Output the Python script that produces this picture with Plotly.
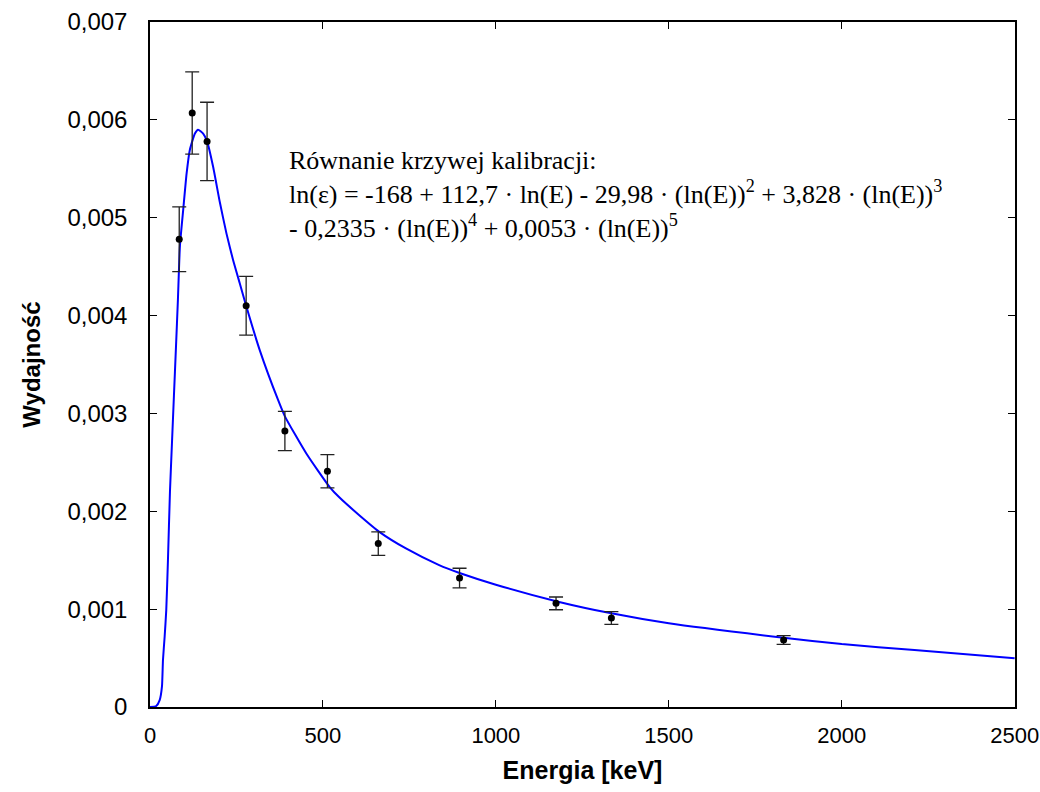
import plotly.graph_objects as go

# Measured points (energy in keV, efficiency)
energy_pts = [84.5, 122, 165, 278, 390, 513, 660, 895, 1174, 1334, 1832]
eff_pts = [0.00478, 0.00607, 0.00578, 0.00410, 0.00282, 0.00241, 0.00167, 0.001318, 0.001059, 0.000909, 0.000684]
eff_err = [0.00033, 0.00042, 0.00040, 0.00030, 0.00020, 0.00017, 0.00012, 0.00010, 0.000065, 0.000065, 0.000045]

# Calibration curve
curve_E = [0, 18, 28, 34.6, 37.5, 42.4, 47, 51.9, 57.7, 63.4, 69.2, 75, 80.7, 86.5, 96, 105.8, 115,
           129.8, 139, 153.7, 165, 182.5, 201.8, 221, 240, 259.5, 278, 317, 370, 390, 452, 519,
           548, 605, 663, 740, 836, 895, 1000, 1180, 1334, 1500, 1832, 2000, 2210, 2500]
curve_eff = [0.0, 0.00001, 0.00007, 0.00021, 0.00048, 0.00072, 0.00099, 0.00150, 0.00220, 0.00269,
             0.00318, 0.00367, 0.00416, 0.00471, 0.00508, 0.00545, 0.00569, 0.00586, 0.00590, 0.00586,
             0.00578, 0.00552, 0.00516, 0.00484, 0.00457, 0.00433, 0.00410, 0.00365, 0.00314,
             0.00297, 0.00259, 0.00225, 0.00214, 0.00196, 0.00179, 0.00162, 0.00145, 0.00137, 0.00125,
             0.001076, 0.000957, 0.000855, 0.000708, 0.000643, 0.000582, 0.000497]

x_ticks = [0, 500, 1000, 1500, 2000, 2500]
x_ticktext = ["0", "500", "1000", "1500", "2000", "2500"]
y_ticks = [0, 0.001, 0.002, 0.003, 0.004, 0.005, 0.006, 0.007]
y_ticktext = ["0", "0,001", "0,002", "0,003", "0,004", "0,005", "0,006", "0,007"]

fig = go.Figure()
fig.add_trace(go.Scatter(
    x=curve_E, y=curve_eff, mode="lines",
    line=dict(color="rgb(0,0,255)", width=2, shape="spline", smoothing=0.5),
    showlegend=False, hoverinfo="skip"))
fig.add_trace(go.Scatter(
    x=energy_pts, y=eff_pts, mode="markers",
    marker=dict(color="black", size=7),
    error_y=dict(type="data", array=eff_err, visible=True, color="#222222", thickness=1.3, width=7),
    showlegend=False))

fig.add_annotation(
    xref="paper", yref="paper", x=0.158, y=0.822, xanchor="left", yanchor="top", align="left",
    showarrow=False,
    text=("Równanie krzywej kalibracji:<br>"
          "ln(ε) = -168 + 112,7 · ln(E) - 29,98 · (ln(E))<sup>2</sup> + 3,828 · (ln(E))<sup>3</sup><br>"
          "- 0,2335 · (ln(E))<sup>4</sup> + 0,0053 · (ln(E))<sup>5</sup>"),
    font=dict(family="Liberation Serif, Times New Roman, serif", size=26, color="black"))

axis_common = dict(showline=True, linecolor="black", linewidth=1.5, mirror="ticks",
                   ticks="inside", ticklen=7, tickcolor="black", showgrid=False, zeroline=False,
                   automargin=False)

fig.update_xaxes(range=[0, 2501], tickvals=x_ticks, ticktext=x_ticktext,
                 tickfont=dict(family="Liberation Sans, Arial", size=22, color="black"),
                 title=dict(text="<b>Energia [keV]</b>", standoff=14,
                            font=dict(family="Liberation Sans, Arial", size=25, color="black")),
                 ticklabelstandoff=8, ticklabeloverflow="allow",
                 **axis_common)
fig.update_yaxes(range=[0, 0.007], tickvals=y_ticks, ticktext=y_ticktext,
                 tickfont=dict(family="Liberation Sans, Arial", size=24, color="black"),
                 title=dict(text="<b>Wydajność</b>", standoff=20,
                            font=dict(family="Liberation Sans, Arial", size=24, color="black")),
                 ticklabelstandoff=16,
                 **axis_common)

fig.update_layout(width=1040, height=792, margin=dict(l=150, r=25, t=22, b=85),
                  plot_bgcolor="white", paper_bgcolor="white")

fig.write_html("out.html")
